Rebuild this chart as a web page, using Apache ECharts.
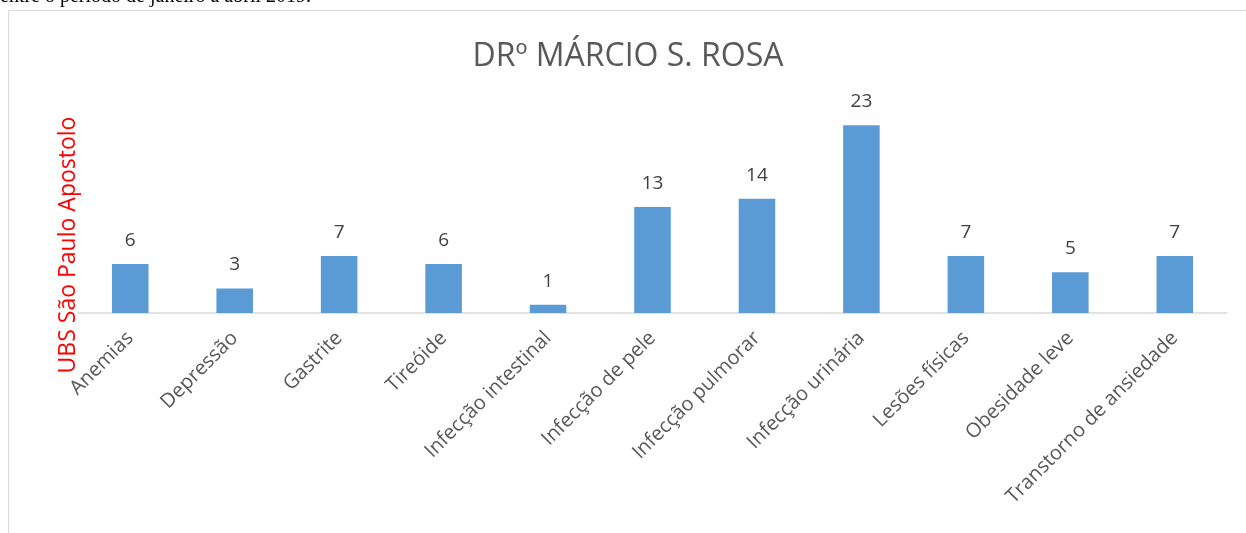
<!DOCTYPE html>
<html>
<head>
<meta charset="utf-8">
<script src="https://cdn.jsdelivr.net/npm/echarts@6/dist/echarts.min.js"></script>
<style>
  html, body { margin: 0; padding: 0; background: #fff; }
  #chart { width: 1246px; height: 533px; }
</style>
</head>
<body>
<div id="chart"></div>
<script>
var categories = ['Anemias', 'Depressão', 'Gastrite', 'Tireóide', 'Infecção intestinal',
    'Infecção de pele', 'Infecção pulmorar', 'Infecção urinária', 'Lesões físicas',
    'Obesidade leve', 'Transtorno de ansiedade'];
var casos = [6, 3, 7, 6, 1, 13, 14, 23, 7, 5, 7];

var chart = echarts.init(document.getElementById('chart'));
var option = {
    animation: false,
    title: {
        text: 'DRº MÁRCIO S. ROSA',
        left: 623,
        textAlign: 'center',
        top: 36,
        textStyle: {
            fontFamily: 'Open Sans',
            fontSize: 32,
            fontWeight: 'normal',
            color: '#595959'
        }
    },
    graphic: [
        {
            type: 'rect',
            shape: { x: 8.5, y: 10.5, width: 1300, height: 600 },
            style: { fill: 'none', stroke: '#d9d9d9', lineWidth: 1 }
        },
        {
            // linha do texto do documento, cortada no topo
            type: 'text',
            x: 0,
            y: -13,
            style: {
                text: 'entre o período de janeiro a abril 2019.',
                font: '20px "Liberation Serif"',
                fill: '#000',
                verticalAlign: 'top'
            }
        },
        {
            type: 'text',
            x: 68,
            y: 245,
            rotation: Math.PI / 2,
            style: {
                text: 'UBS São Paulo Apostolo',
                font: '23px "Open Sans"',
                fill: '#ff0000',
                align: 'center',
                verticalAlign: 'middle'
            }
        }
    ],
    grid: {
        left: 78,
        right: 19,
        top: 109,
        bottom: 220
    },
    xAxis: {
        type: 'category',
        data: categories,
        axisLine: { lineStyle: { color: '#d9d9d9', width: 1.5 } },
        axisTick: { show: false },
        axisLabel: {
            rotate: 45,
            interval: 0,
            margin: 22,
            fontFamily: 'Open Sans',
            fontSize: 20,
            color: '#595959'
        }
    },
    yAxis: {
        type: 'value',
        min: 0,
        max: 25,
        axisLine: { show: false },
        axisTick: { show: false },
        axisLabel: { show: false },
        splitLine: { show: false }
    },
    series: [{
        type: 'bar',
        data: casos,
        barWidth: '35%',
        itemStyle: { color: '#5b9bd5' },
        label: {
            show: true,
            position: 'top',
            distance: 14,
            fontFamily: 'Open Sans',
            fontSize: 19,
            color: '#404040'
        }
    }]
};
chart.setOption(option);
</script>
</body>
</html>
